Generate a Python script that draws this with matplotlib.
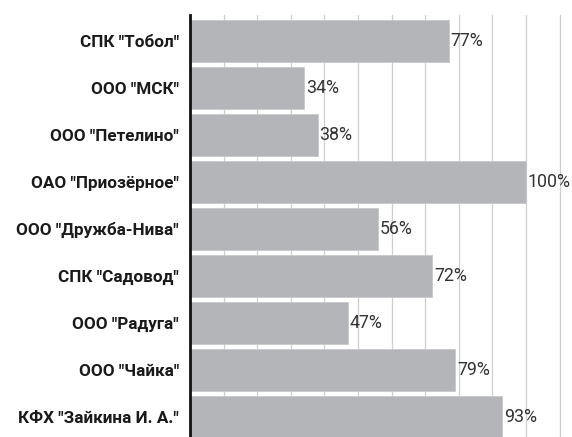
import matplotlib.pyplot as plt

companies = ['СПК "Тобол"', 'ООО "МСК"', 'ООО "Петелино"', 'ОАО "Приозёрное"',
             'ООО "Дружба-Нива"', 'СПК "Садовод"', 'ООО "Радуга"', 'ООО "Чайка"',
             'КФХ "Зайкина И. А."']
values = [77, 34, 38, 100, 56, 72, 47, 79, 93]

plt.rcParams['font.family'] = ['Roboto', 'DejaVu Sans']

fig = plt.figure(figsize=(5.72, 4.37), dpi=100)
ax = fig.add_axes([0.332, 0.0, 0.668, 0.966])

pos = list(range(len(companies)))
ax.barh(pos, values, height=0.9, color='#b4b5b9', edgecolor='#c8c9cc', linewidth=0.6, zorder=2)
for p, v in zip(pos, values):
    ax.text(v + 0.6, p, f'{v}%', va='center', ha='left', fontsize=12.8, color='#333333')

ax.set_yticks(pos)
ax.set_yticklabels(companies, fontsize=12.3, fontweight='bold', color='#1a1a1a')
ax.set_ylim(8.43, -0.55)
ax.set_xlim(0, 113.7)
ax.set_xticks(range(10, 120, 10))
ax.xaxis.grid(True, color='#cfcfcf', linewidth=0.9, zorder=0)
ax.tick_params(axis='x', length=0, labelbottom=False)
ax.tick_params(axis='y', length=0, pad=8)
for s in ['top', 'right', 'bottom']:
    ax.spines[s].set_visible(False)
ax.spines['left'].set_linewidth(2)
ax.spines['left'].set_color('#111111')
ax.spines['left'].set_zorder(3)

fig.savefig('out.png', dpi=100)
